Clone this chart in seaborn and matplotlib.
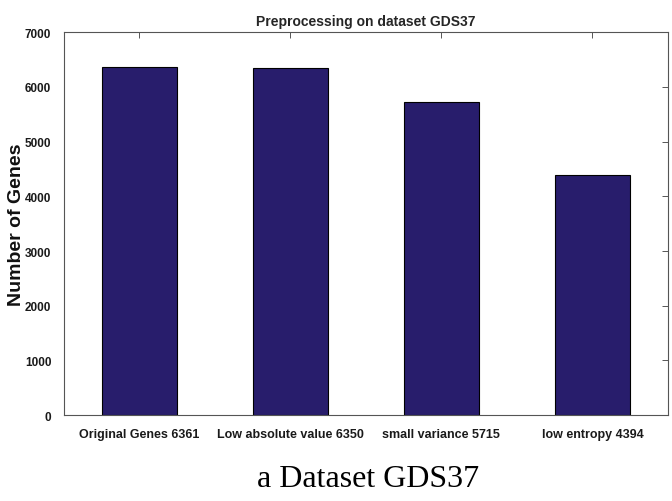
import matplotlib
matplotlib.use("Agg")
import matplotlib.pyplot as plt
import pandas as pd
import seaborn as sns

categories = ["Original Genes 6361", "Low absolute value 6350", "small variance 5715", "low entropy 4394"]
gene_counts = [6361, 6350, 5715, 4394]
y_ticks = [0, 1000, 2000, 3000, 4000, 5000, 6000, 7000]

sns.set_style("white")
plt.rcParams["font.family"] = ["Liberation Sans", "DejaVu Sans"]

df = pd.DataFrame({"step": categories, "genes": gene_counts})

fig = plt.figure(figsize=(6.72, 5.02), dpi=100)
ax = fig.add_axes([0.095, 0.171, 0.899, 0.763])
sns.barplot(data=df, x="step", y="genes", color="#281d6c", saturation=1,
            width=0.5, edgecolor="black", linewidth=0.8, ax=ax)

ax.set_xlim(-0.5, 3.5)
ax.set_ylim(0, 7000)
ax.set_yticks(y_ticks)
ax.set_yticklabels([str(t) for t in y_ticks], fontsize=8.5, fontweight="bold", color="#1a1a1a")
ax.set_xticks(range(len(categories)))
ax.set_xticklabels(categories, fontsize=9, fontweight="bold", color="#1a1a1a")
ax.tick_params(axis="x", direction="in", length=4, width=0.7, color="#555555",
               top=True, pad=9)
ax.tick_params(axis="y", direction="in", length=4, width=0.7, color="#555555",
               right=True, pad=9)
ax.set_xlabel("")
ax.set_ylabel("Number of Genes", fontsize=14, fontweight="bold", color="#111111")
ax.yaxis.set_label_coords(-0.064, 0.5)
ax.set_title("Preprocessing on dataset GDS37", fontsize=10, fontweight="bold", pad=5)
for s in ax.spines.values():
    s.set_visible(True)
    s.set_color("#555555")
    s.set_linewidth(0.8)

fig.text(0.547, 0.045, "a Dataset GDS37", ha="center", va="center", fontsize=23,
         color="black", family=["Liberation Serif", "DejaVu Serif"])

fig.savefig("out.png", dpi=100)
